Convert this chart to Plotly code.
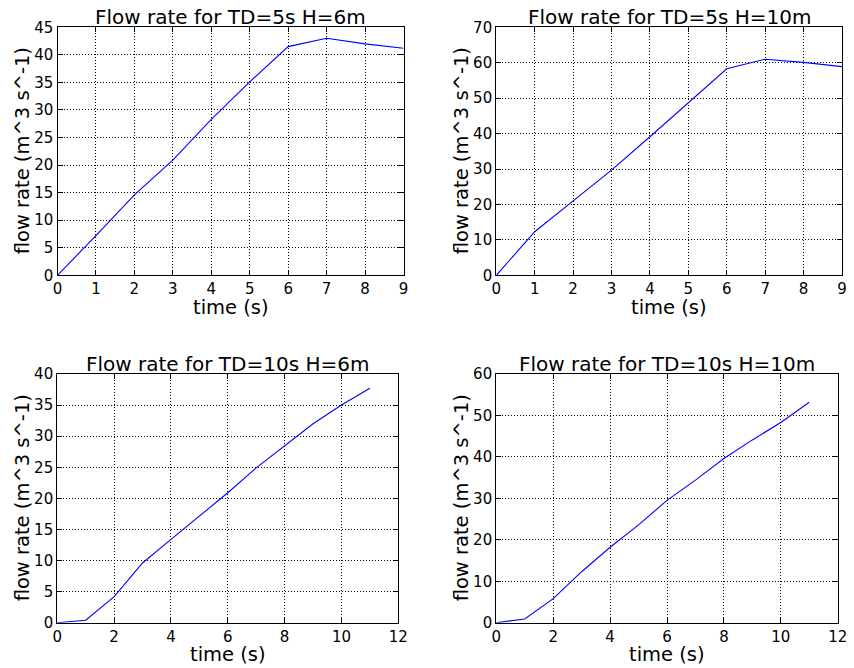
import plotly.graph_objects as go

# Data
t_td5 = [0, 1, 2, 3, 4, 5, 6, 7, 8, 9]
q_td5_h6 = [0, 7.2, 14.6, 20.9, 28.3, 35.1, 41.5, 43.0, 42.0, 41.2]
q_td5_h10 = [0, 12.3, 21.0, 29.7, 39.1, 48.7, 58.3, 61.0, 60.1, 58.9]
t_td10 = [0, 1, 2, 3, 4, 5, 6, 7, 8, 9, 10, 11]
q_td10_h6 = [0, 0.4, 4.2, 9.6, 13.4, 17.1, 20.9, 24.9, 28.5, 32.0, 35.0, 37.7]
q_td10_h10 = [0, 0.9, 5.8, 12.3, 18.2, 23.6, 29.5, 34.4, 39.6, 44.1, 48.3, 53.2]

titles = ["Flow rate for TD=5s H=6m", "Flow rate for TD=5s H=10m",
          "Flow rate for TD=10s H=6m", "Flow rate for TD=10s H=10m"]
x_label = "time (s)"
y_label = "flow rate (m^3 s^-1)"

W, H = 854, 668
FONT = "DejaVu Sans"

# panel pixel boxes (left, right, top, bottom)
boxes = [(57.5, 403.5, 27.3, 275.3), (496.3, 842.0, 27.3, 275.3),
         (57.3, 398.3, 374.0, 622.7), (496.3, 837.7, 374.0, 622.7)]
ylab_x = [22, 461, 22, 461]
series = [(t_td5, q_td5_h6, [0, 9], 1, [0, 45], 5),
          (t_td5, q_td5_h10, [0, 9], 1, [0, 70], 10),
          (t_td10, q_td10_h6, [0, 12], 2, [0, 40], 5),
          (t_td10, q_td10_h10, [0, 12], 2, [0, 60], 10)]

fig = go.Figure()
annotations = []
lab_font = dict(family=FONT, size=19.5, color="black")
for i, ((l, r, t, b), (xs, ys, xr, dx, yr, dy)) in enumerate(zip(boxes, series)):
    n = "" if i == 0 else str(i + 1)
    fig.add_trace(go.Scatter(x=xs, y=ys, mode="lines",
                             line=dict(color="#0000ff", width=1.1),
                             xaxis="x" + n, yaxis="y" + n, showlegend=False))
    axcommon = dict(showline=True, linecolor="black", linewidth=1.2, mirror="ticks",
                    ticks="inside", ticklen=5, tickcolor="black", tickwidth=1,
                    showgrid=True, gridcolor="black", griddash="1px,2px", gridwidth=0.7,
                    zeroline=False, automargin=False,
                    tickfont=dict(family=FONT, size=15, color="black"))
    fig.update_layout(**{
        "xaxis" + n: dict(domain=[l / W, r / W], range=xr, dtick=dx, tick0=0,
                          anchor="y" + n, **axcommon),
        "yaxis" + n: dict(domain=[1 - b / H, 1 - t / H], range=yr, dtick=dy, tick0=0,
                          anchor="x" + n, **axcommon),
    })
    # panel title
    annotations.append(dict(text=titles[i], x=(l + r) / 2 / W, y=1 - (t - 10.5) / H,
                            xref="paper", yref="paper", xanchor="center", yanchor="middle",
                            showarrow=False, font=dict(family=FONT, size=20, color="black")))
    # x axis title
    annotations.append(dict(text=x_label, x=(l + r) / 2 / W, y=1 - (b + 32) / H,
                            xref="paper", yref="paper", xanchor="center", yanchor="middle",
                            showarrow=False, font=lab_font))
    # y axis title
    annotations.append(dict(text=y_label, x=ylab_x[i] / W, y=1 - (t + b) / 2 / H,
                            xref="paper", yref="paper", xanchor="center", yanchor="middle",
                            textangle=-90, showarrow=False, font=lab_font))

fig.update_layout(width=W, height=H, margin=dict(l=0, r=0, t=0, b=0),
                  paper_bgcolor="white", plot_bgcolor="white",
                  annotations=annotations, font=dict(family=FONT))
fig.write_html("out.html", config={"displayModeBar": False},
               post_script="document.body.style.margin='0';document.body.style.overflow='hidden';")
